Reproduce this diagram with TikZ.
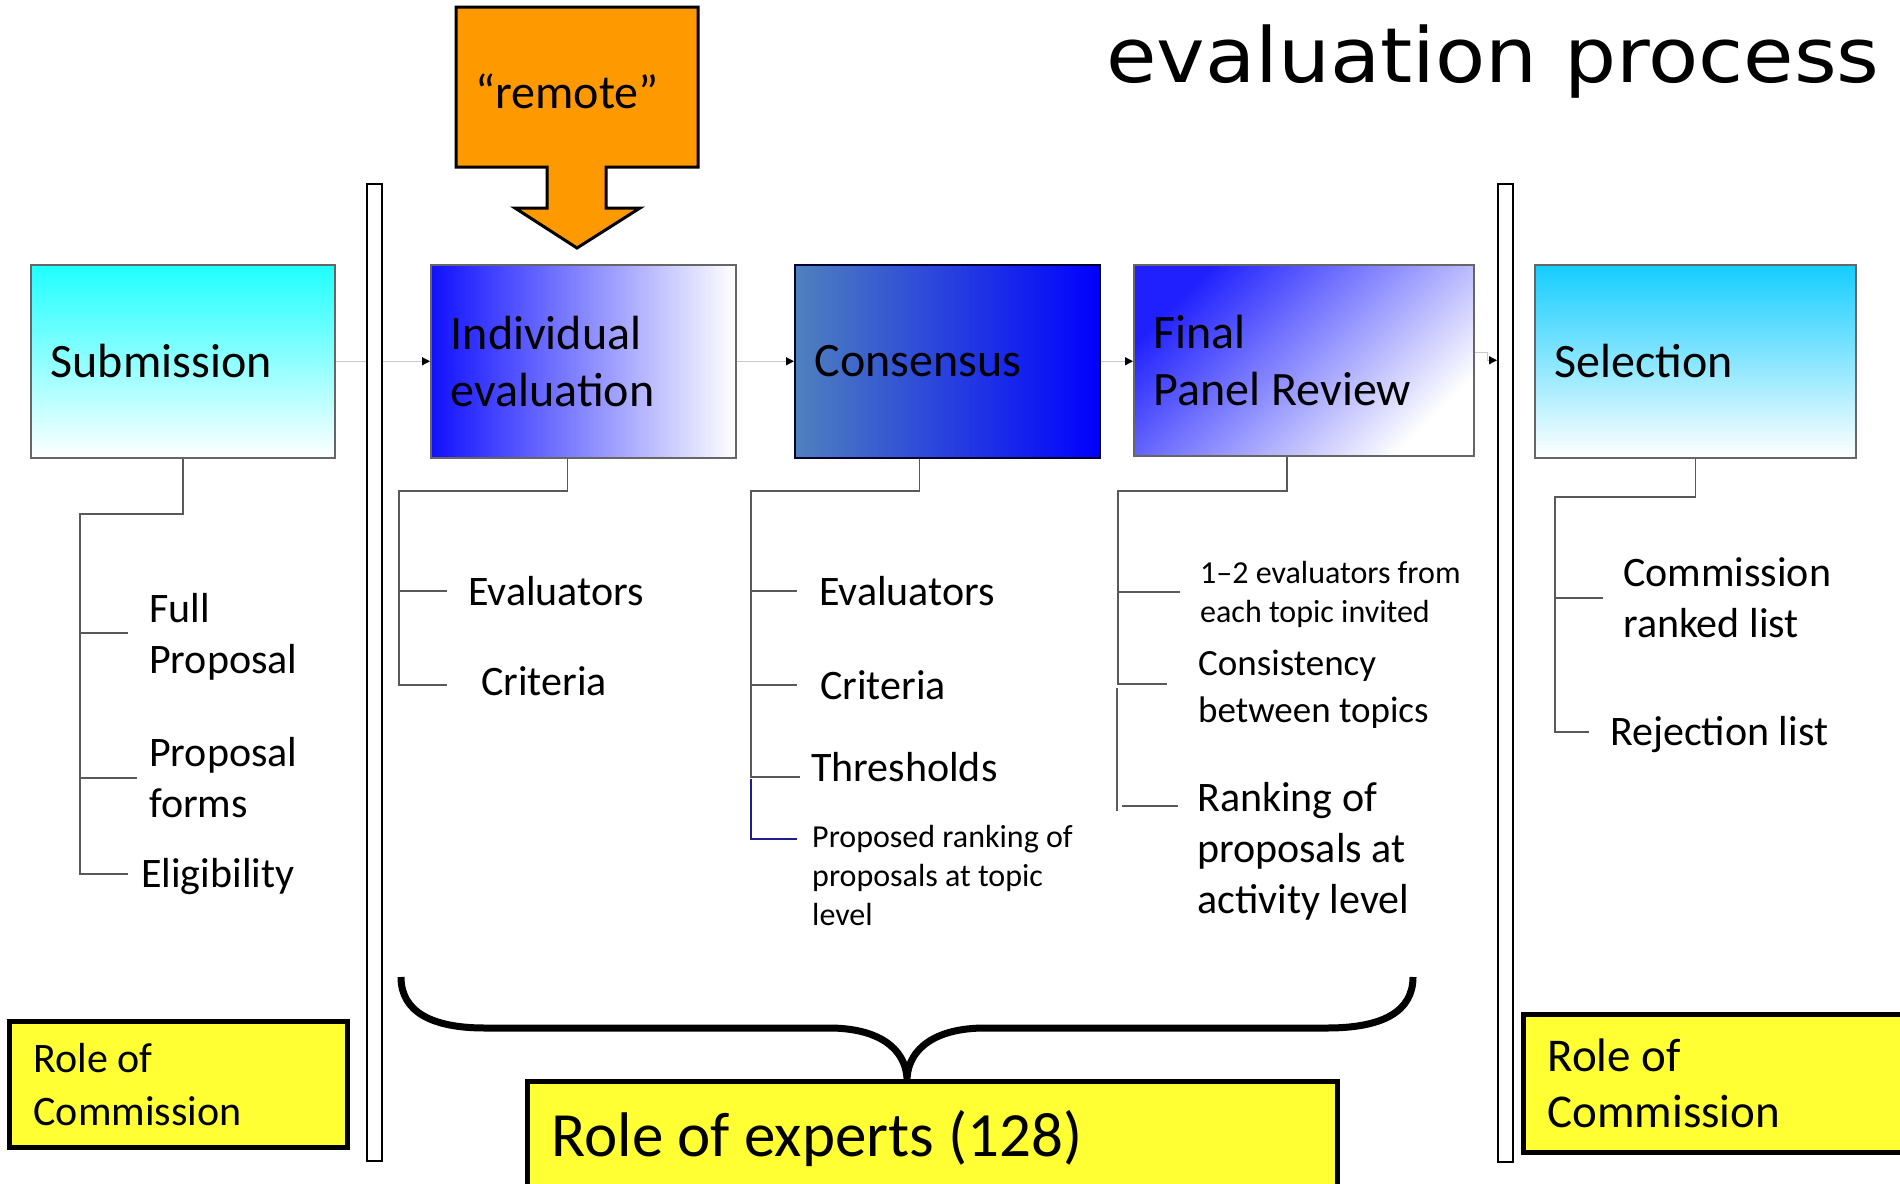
\documentclass[tikz,border=0pt]{standalone}
\usepackage{fontspec}
\usepackage{graphicx}
\setmainfont{Carlito}
\newfontfamily\titlefont{DejaVu Sans}
\usetikzlibrary{arrows.meta}

\definecolor{subtop}{RGB}{30,255,255}
\definecolor{indleft}{RGB}{16,16,255}
\definecolor{conleft}{RGB}{79,129,189}
\definecolor{conright}{RGB}{0,0,255}
\definecolor{fprtop}{RGB}{32,32,255}
\definecolor{seltop}{RGB}{20,205,255}
\definecolor{remotefill}{RGB}{255,153,0}
\definecolor{roleyellow}{RGB}{255,255,51}
\definecolor{navyline}{RGB}{30,30,140}
\definecolor{flowgray}{RGB}{200,200,200}

\begin{document}
\begin{tikzpicture}[
    x=1pt, y=-1pt,
    stage/.style={draw=black!60, line width=1.5pt, rectangle, anchor=north west, inner xsep=20pt, inner ysep=0pt, align=flush left, font=\fontsize{48}{57}\selectfont},
    flow/.style={draw=flowgray, line width=1.2pt, -{Triangle[length=8pt,width=8pt,color=black]}},
    branch/.style={draw=black!65, line width=1.5pt},
    navybranch/.style={draw=navyline, line width=2pt},
    item/.style={anchor=base west, inner sep=0pt, align=left, font=\fontsize{42}{51}\selectfont},
    smallitem/.style={item, font=\fontsize{32}{39}\selectfont},
    vbar/.style={draw=black, line width=2pt, fill=white, minimum width=15pt, inner sep=0pt},
    role/.style={draw=black, line width=5pt, fill=roleyellow, anchor=north west, inner xsep=24pt, inner ysep=0pt, align=flush left}
    ]

    \path[use as bounding box, clip] (0,0) rectangle (1900,1183);

    \node[stage, top color=subtop, bottom color=white, minimum width=304pt, minimum height=193pt, text width=264pt] (sub) at (30,264) {Submission};
    \node[stage, left color=indleft, right color=white, minimum width=305pt, minimum height=193pt, text width=265pt] (ind) at (430,264) {Individual\\evaluation};
    \node[stage, left color=conleft, right color=conright, draw=black!80!blue, minimum width=305pt, minimum height=193pt, text width=265pt] (con) at (794,264) {Consensus};
    \node[stage, top color=fprtop, bottom color=white, shading angle=45, minimum width=340pt, minimum height=191pt, text width=300pt] (fpr) at (1133,264) {Final\\Panel Review};
    \node[stage, top color=seltop, bottom color=white, minimum width=321pt, minimum height=193pt, text width=281pt] (sel) at (1534,264) {Selection};

    \draw[flow] (sub.east) -- (ind.west);
    \draw[flow] (ind.east) -- (con.west);
    \draw[flow] (con.east) -- (con.east -| fpr.west);

    \node[vbar, minimum height=977pt] (lbar) at (374.5,672.5) {};
    \node[vbar, minimum height=978pt] (rbar) at (1505.5,673) {};

    \draw[flow] ([yshift=8pt]fpr.east) -- ++(13,0) |- (rbar.west |- fpr.east);

    \filldraw[draw=black, line width=3pt, fill=remotefill] (456,7) -- (698,7) -- (698,167) -- (606,167) -- (606,208) -- (640,208) -- (577,248) -- (515,208) -- (547,208) -- (547,167) -- (456,167) -- cycle;
    \node[anchor=base, inner sep=0pt, font=\fontsize{48}{57}\selectfont] (remote) at (567,108) {``remote''};

    \node[anchor=base west, inner sep=0pt, font=\titlefont\fontsize{76}{90}\selectfont] (title) at (1106,82) {\scalebox{1.08}[1]{evaluation process}};

    \coordinate (subsp) at (80,514);
    \coordinate (s1) at (80,633);
    \coordinate (s2) at (80,778);
    \coordinate (s3) at (80,874);
    \node[item] (fullp) at (149,673) {Full\\Proposal};
    \node[item] (pforms) at (149,817) {Proposal\\forms};
    \node[item] (elig) at (141,887) {Eligibility};
    \draw[branch] (sub.south) |- (subsp) -- (s3) -- ++(48,0);
    \draw[branch] (s1) -- ++(48,0);
    \draw[branch] (s2) -- ++(57,0);

    \coordinate (indsp) at (399,491);
    \coordinate (i1) at (399,591);
    \coordinate (i2) at (399,685);
    \node[item] (ieval) at (468,605) {Evaluators};
    \node[item] (icrit) at (481,695) {Criteria};
    \draw[branch] ([xshift=-16pt]ind.south) |- (indsp) -- (i2) -- ++(48,0);
    \draw[branch] (i1) -- ++(48,0);

    \coordinate (consp) at (751,491);
    \coordinate (c1) at (751,591);
    \coordinate (c2) at (751,685);
    \coordinate (c3) at (751,777);
    \coordinate (c4) at (751,839);
    \node[item] (ceval) at (819,605) {Evaluators};
    \node[item] (ccrit) at (820,699) {Criteria};
    \node[item] (cthr) at (811,781) {Thresholds};
    \node[smallitem] (cprop) at (812,925) {Proposed ranking of\\proposals at topic\\level};
    \draw[branch] ([xshift=-28pt]con.south) |- (consp) -- (c3) -- ++(49,0);
    \draw[branch] (c1) -- ++(46,0);
    \draw[branch] (c2) -- ++(46,0);
    \draw[navybranch] ([yshift=-2pt]c3) -- (c4) -- ++(46,0);

    \coordinate (fprsp) at (1118,491);
    \coordinate (f1) at (1118,592);
    \coordinate (f2) at (1118,684);
    \coordinate (f3) at (1117,688);
    \coordinate (f4) at (1117,811);
    \coordinate (f5) at (1122,806);
    \node[smallitem] (fexp) at (1200,622) {1--2 evaluators from\\each topic invited};
    \node[item, font=\fontsize{37}{47}\selectfont] (fcons) at (1198,722) {Consistency\\between topics};
    \node[item] (frank) at (1197,913) {Ranking of\\proposals at\\activity level};
    \draw[branch] ([xshift=-17pt]fpr.south) |- (fprsp) -- (f2) -- ++(49,0);
    \draw[branch] (f1) -- ++(62,0);
    \draw[branch] (f3) -- (f4);
    \draw[branch] (f5) -- ++(56,0);

    \coordinate (selsp) at (1555,497);
    \coordinate (l1) at (1555,598);
    \coordinate (l2) at (1555,732);
    \node[item] (slist) at (1623,637) {Commission\\ranked list};
    \node[item] (srej) at (1610,745) {Rejection list};
    \draw[branch] (sel.south) |- (selsp) -- (l2) -- ++(34,0);
    \draw[branch] (l1) -- ++(48,0);

    \draw[line width=7pt] (401,977) .. controls (401,1012) and (432,1028) .. (485,1028) -- (829,1028) .. controls (878,1028) and (905,1048) .. (907,1078) .. controls (909,1048) and (936,1028) .. (985,1028) -- (1327,1028) .. controls (1382,1028) and (1413,1012) .. (1413,977);

    \node[role, minimum width=338pt, minimum height=126pt, text width=290pt, font=\fontsize{42}{53}\selectfont] (lrole) at (7,1019) {Role of\\Commission};
    \node[role, minimum width=420pt, minimum height=138pt, text width=372pt, font=\fontsize{47}{56}\selectfont] (rrole) at (1521,1012) {Role of\\Commission};
    \node[role, minimum width=810pt, minimum height=114pt, text width=762pt, font=\fontsize{63}{75}\selectfont] (experts) at (525,1079) {Role of experts (128)};

  \end{tikzpicture}
\end{document}
